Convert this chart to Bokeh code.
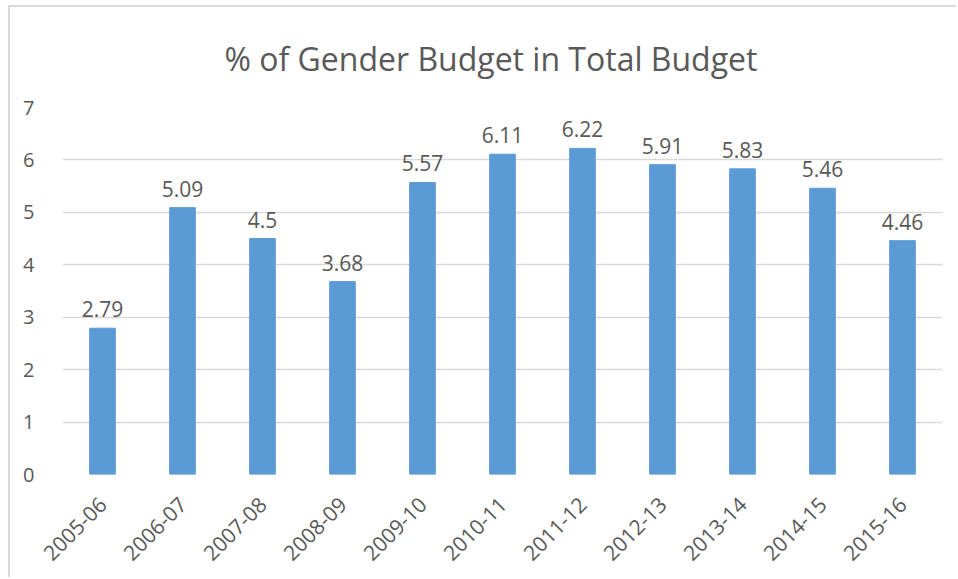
import math
from bokeh.plotting import figure
from bokeh.models import ColumnDataSource, LabelSet, SingleIntervalTicker
from bokeh.core.properties import value
from bokeh.embed import file_html
from bokeh.resources import INLINE

years = ["2005-06", "2006-07", "2007-08", "2008-09", "2009-10", "2010-11",
         "2011-12", "2012-13", "2013-14", "2014-15", "2015-16"]
share = [2.79, 5.09, 4.5, 3.68, 5.57, 6.11, 6.22, 5.91, 5.83, 5.46, 4.46]
labels = ["2.79", "5.09", "4.5", "3.68", "5.57", "6.11", "6.22", "5.91", "5.83", "5.46", "4.46"]

src = ColumnDataSource(dict(year=years, share=share, label=labels))

FONT = "Open Sans"
TXT = "#595959"

p = figure(x_range=years, y_range=(0, 7), width=948, height=572,
           output_backend="svg", toolbar_location=None,
           min_border_left=52, min_border_right=16, min_border_top=99, min_border_bottom=105)
p.margin = (7, 0, 0, 10)
p.styles = {"box-shadow": "-2px -2px 0 0 #d9d9d9"}

p.title.text = "% of Gender Budget in Total Budget"
p.title.align = "left"
p.title.text_font = FONT
p.title.text_font_size = "32px"
p.title.text_font_style = "normal"
p.title.text_color = TXT
p.title.standoff = 55
p.title.offset = 162

p.vbar(x="year", top="share", width=0.32, source=src, color="#5B9BD5", line_color="#5B9BD5")

p.add_layout(LabelSet(x="year", y="share", text="label", source=src,
                      text_align="center", text_baseline="alphabetic", y_offset=11,
                      text_font=value(FONT), text_font_size=value("21px"), text_color=TXT))

p.outline_line_color = None
p.xgrid.grid_line_color = None
p.ygrid.grid_line_color = "#d9d9d9"
p.ygrid.grid_line_width = 1.5
p.yaxis.ticker = SingleIntervalTicker(interval=1)

for ax in (p.xaxis, p.yaxis):
    ax.axis_line_color = None
    ax.major_tick_line_color = None
    ax.minor_tick_line_color = None
    ax.major_label_text_font = FONT
    ax.major_label_text_color = TXT

p.yaxis.major_label_text_font_size = "20px"
p.xaxis.major_label_text_font_size = "21px"
p.yaxis.major_label_standoff = 22
p.xaxis.major_label_standoff = 20
p.xaxis.major_label_orientation = math.pi / 4

open("out.html", "w").write(file_html(p, INLINE))
